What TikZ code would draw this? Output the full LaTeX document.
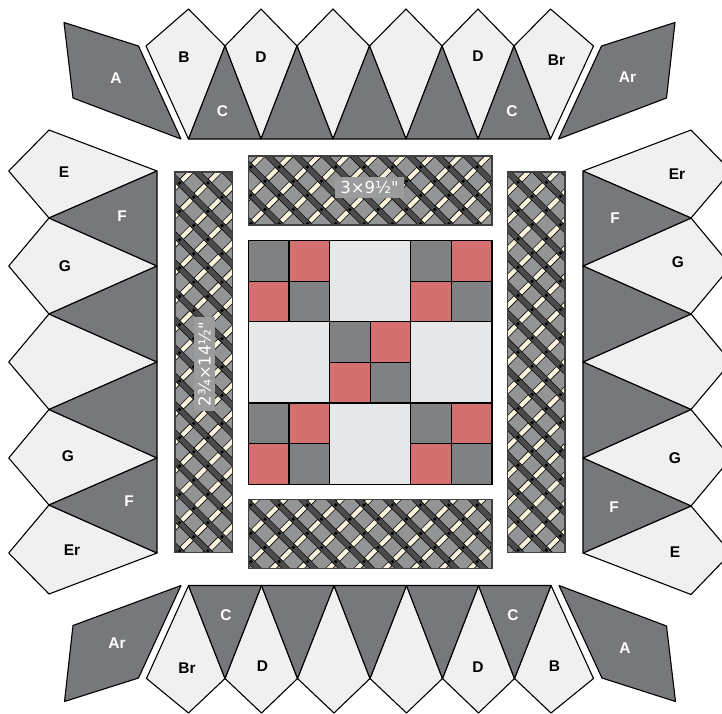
\documentclass[tikz,border=0pt]{standalone}
\usepackage{xcolor}
\usepackage{fontspec}
\setmainfont{Liberation Sans}
\newfontfamily\sizefont{DejaVu Sans}
\usepackage{tikz}

\definecolor{patchlight}{HTML}{F0F0F0}
\definecolor{patchdark}{HTML}{77787B}
\definecolor{blockgray}{HTML}{808183}
\definecolor{blockred}{HTML}{D57070}
\definecolor{blocklight}{HTML}{E6E7E8}
\definecolor{weavehole}{HTML}{939496}
\definecolor{weavedark}{HTML}{4B4B4D}
\definecolor{weavecream}{HTML}{F7F3DC}
\definecolor{sizebox}{HTML}{9B9C9E}

\tikzset{
  lightpatch/.style={draw=black,line width=1.1pt,line join=round,fill=patchlight},
  darkpatch/.style={draw=black,line width=1.1pt,line join=round,fill=patchdark},
  blockpatch/.style={draw=black,line width=1.2pt},
  creambar/.style={draw=black,line width=0.6pt,fill=weavecream},
  darkband/.style={line width=0.6pt,double=weavedark,double distance=5pt},
  striprim/.style={draw=black!75,line width=1.1pt},
  blacklabel/.style={font=\bfseries\fontsize{15.5}{15.5}\selectfont,text=black,inner sep=0pt},
  whitelabel/.style={font=\bfseries\fontsize{15.5}{15.5}\selectfont,text=white,inner sep=0pt},
  sizelabel/.style={font=\sizefont\fontsize{16.5}{16.5}\selectfont,text=white,fill=sizebox,inner sep=0pt,minimum height=20.7pt},
}

% #1,#2 top left of the strip, #3,#4 bottom right, #5,#6 first hole of the lattice
\newcommand{\weavestrip}[6]{
  \begin{scope}
    \clip (#1,#2) rectangle (#3,#4);
    \fill[weavehole] (#1,#2) rectangle (#3,#4);
    \foreach \k in {-15,...,10}
      \draw[darkband] ({#5+14.15+28.3*\k-420},{#6-420})--({#5+14.15+28.3*\k+420},{#6+420});
    \foreach \r in {0,...,27}
      \foreach \c in {0,...,9}{
        \filldraw[creambar,shift={({#5+28.3*\c+14.15*mod(\r,2)+7.07},{#6+14.15*\r+7.07})},rotate=45]
          (-7,-2.6) rectangle (7,2.6);
        \fill[black] ({#5+28.3*\c+14.15*mod(\r,2)+14.15},{#6+14.15*\r}) circle (1.8);
      }
  \end{scope}
  \draw[striprim] (#1,#2) rectangle (#3,#4);
}

\begin{document}
\begin{tikzpicture}[x=1pt,y=-1pt]
  \useasboundingbox (0,0) rectangle (722,713);
  \clip (0,0) rectangle (722,713);

  % top row
  \filldraw[darkpatch] (64,22.5)--(138.5,46)--(181,139)--(73,98)--cycle;
  \filldraw[darkpatch] (675,22.5)--(601.5,46)--(558.5,139)--(666.5,98)--cycle;
  \foreach \ax/\lx/\rx in {188.5/146/225,261/225/297,333/297/369.5,406/369.5/442,478/442/514,550.5/514/593.5}
    \filldraw[lightpatch] (\ax,9)--(\rx,46)--(\ax,139)--(\lx,46)--cycle;
  \foreach \lx/\tx/\rx in {188.5/225/261,261/297/333,333/369.5/406,406/442/478,478/514/550.5}
    \filldraw[darkpatch] (\lx,139)--(\tx,46)--(\rx,139)--cycle;

  % bottom row
  \filldraw[darkpatch] (181,585.5)--(73,625.5)--(64.5,701.5)--(138.5,678)--cycle;
  \filldraw[darkpatch] (559,585.5)--(666.5,626)--(675.5,701.5)--(602,678)--cycle;
  \foreach \ax/\lx/\rx in {188.5/146.5/225,261.5/225/297.5,334/297.5/370,406.5/370/442.5,478.5/442.5/514.5,551/514.5/593.5}
    \filldraw[lightpatch] (\ax,713)--(\rx,678.5)--(\ax,585.5)--(\lx,678.5)--cycle;
  \foreach \lx/\tx/\rx in {188.5/225/261.5,261.5/297.5/334,334/370/406.5,406.5/442.5/478.5,478.5/514.5/551}
    \filldraw[darkpatch] (\lx,585.5)--(\tx,678.5)--(\rx,585.5)--cycle;

  % left column
  \foreach \my/\ty/\by in {171/130/218,266/218/314,362/314/409.5,458/409.5/505,553/505/594}
    \filldraw[lightpatch] (157,\my)--(49,\ty)--(8.7,\my)--(49,\by)--cycle;
  \foreach \ty/\my/\by in {171/218/266,266/314/362,362/409.5/458,458/505/553}
    \filldraw[darkpatch] (157,\ty)--(49,\my)--(157,\by)--cycle;

  % right column
  \foreach \my/\ty/\by in {171/130/218,266/218/314,362/314/409.5,458/409.5/506,553/506/594.5}
    \filldraw[lightpatch] (583,\my)--(691,\ty)--(731,\my)--(691,\by)--cycle;
  \foreach \ty/\my/\by in {171/218/266,266/314/362,362/409.5/458,458/506/553}
    \filldraw[darkpatch] (583,\ty)--(691,\my)--(583,\by)--cycle;

  % strips
  \weavestrip{248.5}{156}{492}{225}{222.55}{152.85}
  \weavestrip{248.5}{499.5}{492}{568.5}{222.55}{490.85}
  \weavestrip{175}{172}{232.7}{552.5}{151.25}{168.85}
  \weavestrip{507.3}{172}{565}{552.5}{489.7}{168.1}

  % centre block
  \foreach \bx/\by in {248.4/240.5,410.8/240.5,329.6/321.7,248.4/402.9,410.8/402.9}{
    \filldraw[blockpatch,fill=blockgray] (\bx,\by) rectangle ++(40.6,40.6);
    \filldraw[blockpatch,fill=blockred] (\bx+40.6,\by) rectangle ++(40.6,40.6);
    \filldraw[blockpatch,fill=blockred] (\bx,\by+40.6) rectangle ++(40.6,40.6);
    \filldraw[blockpatch,fill=blockgray] (\bx+40.6,\by+40.6) rectangle ++(40.6,40.6);
  }
  \foreach \bx/\by in {329.6/240.5,248.4/321.7,410.8/321.7,329.6/402.9}
    \filldraw[blockpatch,fill=blocklight] (\bx,\by) rectangle ++(81.2,81.2);

  % labels
  \node[whitelabel] (topA) at (116,78) {A};
  \node[blacklabel] (topB) at (184,57) {B};
  \node[whitelabel] (topCl) at (222.5,111) {C};
  \node[blacklabel] (topDl) at (261,57) {D};
  \node[blacklabel] (topDr) at (478,56) {D};
  \node[whitelabel] (topCr) at (512,111) {C};
  \node[blacklabel] (topBr) at (556.5,60) {Br};
  \node[whitelabel] (topAr) at (627.5,77) {Ar};
  \node[blacklabel] (leftE) at (64,172) {E};
  \node[whitelabel] (leftFt) at (122,216) {F};
  \node[blacklabel] (leftGt) at (65,266) {G};
  \node[blacklabel] (leftGb) at (68,456) {G};
  \node[whitelabel] (leftFb) at (129,501) {F};
  \node[blacklabel] (leftEr) at (72,550) {Er};
  \node[blacklabel] (rightEr) at (677,174) {Er};
  \node[whitelabel] (rightFt) at (615,218) {F};
  \node[blacklabel] (rightGt) at (678,262) {G};
  \node[blacklabel] (rightGb) at (675,458) {G};
  \node[whitelabel] (rightFb) at (614,507) {F};
  \node[blacklabel] (rightE) at (675,552) {E};
  \node[whitelabel] (botAr) at (117,643) {Ar};
  \node[whitelabel] (botCl) at (226,615) {C};
  \node[blacklabel] (botBr) at (187,668) {Br};
  \node[blacklabel] (botDl) at (262.5,666) {D};
  \node[blacklabel] (botDr) at (478,667) {D};
  \node[whitelabel] (botCr) at (513,615) {C};
  \node[blacklabel] (botB) at (554.5,666) {B};
  \node[whitelabel] (botA) at (625,648) {A};
  \node[sizelabel,minimum width=69pt] (sizetop) at (369.5,187.5) {3×9½"};
  \node[sizelabel,minimum width=93.7pt,rotate=90] (sizeleft) at (204.7,364) {2¾×14½"};
\end{tikzpicture}
\end{document}
